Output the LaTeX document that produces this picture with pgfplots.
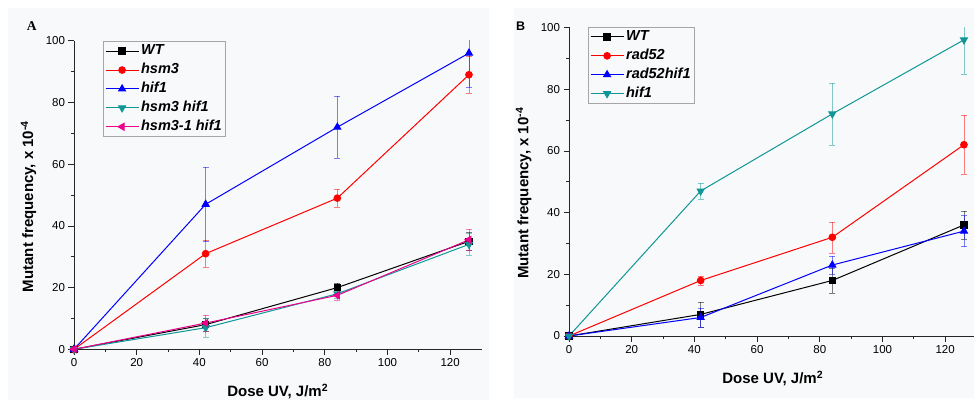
\documentclass[border=0pt]{standalone}
\usepackage{fontspec}
\setmainfont{Liberation Sans}
\newfontfamily\serifbold{Liberation Serif}
\usepackage{pgfplots}
\pgfplotsset{compat=1.18}
\definecolor{bgc}{RGB}{248,249,250}
\definecolor{myteal}{RGB}{16,150,150}

\pgfplotsset{
 mystyle/.style={
  scale only axis, width=407.5pt, height=308.5pt,
  xmin=0,xmax=130,ymin=0,ymax=100,
  axis lines*=left, axis line style={line width=0.9pt, color=black!85},
  xtick={0,20,...,120}, ytick={0,20,...,100},
  minor x tick num=1, minor y tick num=1,
  tick align=outside, major tick length=5.5pt, minor tick length=3pt,
  tick style={line width=0.8pt, black!85},
  /pgf/number format/assume math mode=true,
  ticklabel style={font=\fontsize{11.5}{13}\selectfont},
  label style={font=\bfseries\fontsize{15}{17}\selectfont},
  xlabel={Dose UV, J/m\textsuperscript{2}},
  ylabel={Mutant frequency, x 10\textsuperscript{-4}},
  xlabel style={at={(axis description cs:0.5,-0.1535)},anchor=base},
  ylabel style={at={(axis description cs:-0.1,0.463)},anchor=base},
  legend cell align=left,
  legend style={draw=gray!70, fill=bgc, line width=0.8pt,
    font=\bfseries\itshape\fontsize{14.5}{16}\selectfont,
    nodes={text height=10.5pt,text depth=3pt, inner ysep=2.7pt},
    inner xsep=2pt, inner ysep=0.5pt, anchor=north west},
  legend image code/.code={\draw[mark repeat=2,mark phase=2] plot coordinates {(0pt,0pt) (16.5pt,0pt) (33pt,0pt)};},
  every axis plot/.append style={line width=1pt, mark size=3.3pt},
 },
 eb/.style={error bars/.cd, y dir=both, y explicit,
   error bar style={opacity=0.5, line width=0.9pt},
   error mark options={rotate=90, mark size=3pt}},
}

\begin{document}
\begin{tikzpicture}[x=1pt,y=1pt]
\fill[white] (0,0) rectangle (974,402);
\fill[bgc] (8,2) rectangle (489,394);
\fill[bgc] (514,4) rectangle (974,394);
\useasboundingbox (0,0) rectangle (974,402);

\begin{axis}[mystyle, at={(74pt,52.7pt)}, anchor=south west,
  legend style={at={(axis description cs:0.0704,1.0)}}]
\addplot[black, mark=square*, eb] table[x=x,y=y,y error=e,row sep=\\] {x y e\\ 0 0 0\\ 42 8 2\\ 84 20 1.5\\ 126 35 3\\};
\addlegendentry{WT}
\addplot[red, mark=*, eb] table[x=x,y=y,y error=e,row sep=\\] {x y e\\ 0 0 0\\ 42 31 4.3\\ 84 49 3\\ 126 89 6\\};
\addlegendentry{hsm3}
\addplot[blue, mark=triangle*, mark options={mark size=4pt}, eb] table[x=x,y=y,y error=e,row sep=\\] {x y e\\ 0 0 0\\ 42 47 12\\ 84 72 10\\ 126 96 11\\};
\addlegendentry{hif1}
\addplot[myteal, mark=triangle*, mark options={rotate=180, mark size=4pt}, eb] table[x=x,y=y,y error=e,row sep=\\] {x y e\\ 0 0 0\\ 42 7 3\\ 84 18 1.5\\ 126 34 3.5\\};
\addlegendentry{hsm3 hif1}
\addplot[magenta, mark=triangle*, mark options={rotate=90, mark size=4pt}, eb] table[x=x,y=y,y error=e,row sep=\\] {x y e\\ 0 0 0\\ 42 8.5 2.5\\ 84 17.5 1.5\\ 126 35.5 3.5\\};
\addlegendentry{hsm3-1 hif1}
\end{axis}

\begin{axis}[mystyle, at={(569pt,66pt)}, anchor=south west,
  legend style={at={(axis description cs:0.0459,1.003)}}]
\addplot[black, mark=square*, eb] table[x=x,y=y,y error=e,row sep=\\] {x y e\\ 0 0 0\\ 42 7 4\\ 84 18 4\\ 126 36 4.5\\};
\addlegendentry{WT}
\addplot[red, mark=*, eb] table[x=x,y=y,y error=e,row sep=\\] {x y e\\ 0 0 0\\ 42 18 1.5\\ 84 32 5\\ 126 62 9.5\\};
\addlegendentry{rad52}
\addplot[blue, mark=triangle*, mark options={mark size=4pt}, eb] table[x=x,y=y,y error=e,row sep=\\] {x y e\\ 0 0 0\\ 42 6 3\\ 84 23 3\\ 126 34 5\\};
\addlegendentry{rad52hif1}
\addplot[myteal, mark=triangle*, mark options={rotate=180, mark size=4pt}, eb] table[x=x,y=y,y error=e,row sep=\\] {x y e\\ 0 0 0\\ 42 47 2.5\\ 84 72 10\\ 126 96 11\\};
\addlegendentry{hif1}
\end{axis}

\node[anchor=base] at (31.7,371.3) {\serifbold\bfseries\fontsize{13.5}{15}\selectfont A};
\node[anchor=base] at (520.7,371.3) {\bfseries\fontsize{12.5}{14}\selectfont B};
\end{tikzpicture}
\end{document}
